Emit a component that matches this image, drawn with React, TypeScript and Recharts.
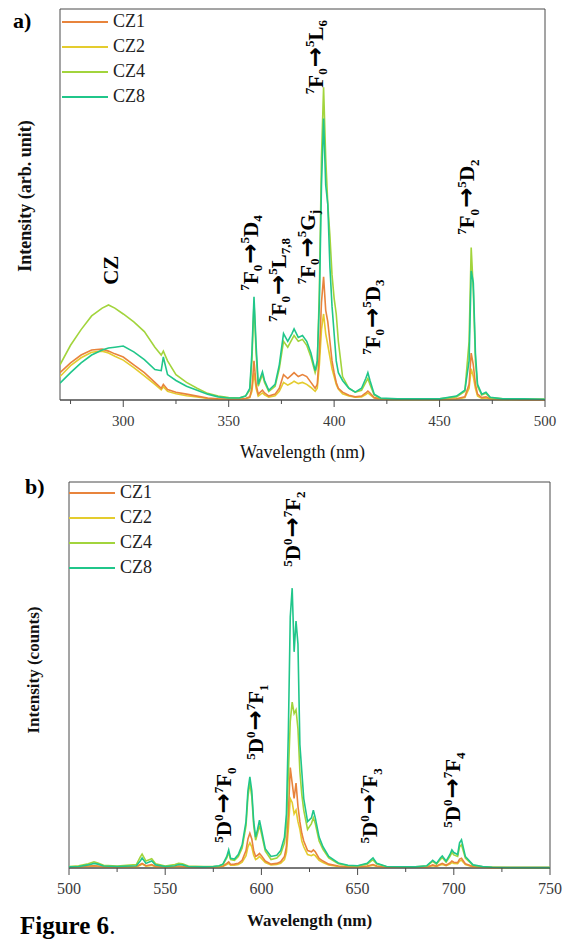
import React from 'react'
import { LineChart, Line, XAxis, YAxis, ReferenceArea, ReferenceDot, Legend } from 'recharts'

// ── Series colours ───────────────────────────────────────────────────────────
const SERIF = '"Liberation Serif", "Times New Roman", serif'
const ARROW_FONT = '"DejaVu Sans", sans-serif'
const AXIS = '#4a4a4a'
const SERIES = [
  { key: 'cz1', name: 'CZ1', color: '#E8843C' },
  { key: 'cz2', name: 'CZ2', color: '#E4CC2E' },
  { key: 'cz4', name: 'CZ4', color: '#A2D43C' },
  { key: 'cz8', name: 'CZ8', color: '#20C68A' },
]
const DRAW_ORDER = ['cz2', 'cz1', 'cz4', 'cz8']

// ── a) excitation spectra ────────────────────────────────────────────────────
const WL_A = [
  270, 275, 280, 285, 290, 293, 296, 300, 305, 310,
  315, 318, 319, 321, 325, 330, 335, 340, 345, 350,
  355, 358, 360, 361, 362, 363, 364, 366, 367, 369,
  372, 374, 376, 378, 380, 381, 383, 385, 387, 389,
  391, 392, 393, 394, 395, 396, 397, 398, 399, 400,
  401, 402, 404, 407, 410, 413, 415, 416, 417, 419,
  422, 430, 440, 450, 458, 462, 464, 465, 466, 467,
  468, 470, 472, 474, 480, 490, 500,
]
const CZ8_A = [
  4.3, 7, 9.5, 11.5, 12.8, 13.3, 13.5, 13.8, 12.3, 10.3,
  7.8, 7.5, 11, 6.5, 5, 3.5, 2.5, 1.5, 0.8, 0.5,
  0.5, 1, 3, 12, 26.4, 14, 4, 7.2, 5, 2.5,
  4, 9, 17, 15, 17, 18.2, 16, 16.5, 15, 12,
  7.5, 10, 25, 55, 72, 55, 50, 34, 24, 17,
  10, 7, 5, 3, 2, 3, 5.5, 7, 5, 1.5,
  0.5, 0.3, 0.3, 0.3, 1, 2.5, 10, 33, 30, 12,
  4, 1.5, 2, 0.7, 0.3, 0.3, 0.2,
]
const CZ4_A = [
  9, 14, 18, 21.5, 23.5, 24.3, 23.5, 22, 20, 17.5,
  13.5, 11.5, 12.5, 10, 6.5, 4.5, 3, 1.7, 1, 0.6,
  0.5, 1, 2.5, 10, 25, 12, 3.5, 6.5, 4.5, 2.2,
  3.5, 8, 15, 13.5, 15.5, 16.5, 15, 15.5, 14, 11,
  7, 9, 28, 62, 80, 62, 50, 42, 32, 26,
  22, 15, 6, 3, 2, 2.5, 4.5, 5.5, 4, 1.3,
  0.4, 0.3, 0.3, 0.3, 0.8, 2.2, 15, 39, 28, 10,
  3.5, 1.3, 1.7, 0.6, 0.3, 0.2, 0.2,
]
const CZ1_A = [
  7, 9.5, 11.5, 12.8, 13, 12.5, 11.8, 11, 9, 7,
  4.5, 3, 4, 2.7, 2, 1.5, 1, 0.5, 0.3, 0.2,
  0.2, 0.4, 0.8, 3, 10, 4, 1.5, 2.5, 1.8, 1,
  1.5, 3, 6.5, 5.5, 6.5, 7, 6, 6.5, 6, 4.5,
  3, 4, 12, 25, 31.5, 23, 20, 15, 10, 7,
  4.5, 3, 2, 1.2, 0.8, 1, 1.8, 2.3, 1.8, 0.6,
  0.3, 0.2, 0.2, 0.2, 0.3, 0.8, 4, 12, 9, 4,
  1.5, 0.6, 0.8, 0.3, 0.2, 0.1, 0.1,
]
const CZ2_A = [
  6, 8.8, 10.8, 12.2, 12.5, 12, 11.2, 10.2, 8.3, 6.2,
  4, 2.6, 3.4, 2.2, 1.6, 1.1, 0.8, 0.4, 0.2, 0.2,
  0.2, 0.3, 0.6, 2.2, 7, 3, 1, 1.8, 1.3, 0.7,
  1.1, 2.2, 4.5, 3.8, 4.4, 4.8, 4.2, 4.5, 4, 3.2,
  2.2, 3, 9, 18, 22, 17, 14, 11, 8, 6,
  4, 2.8, 1.6, 1, 0.7, 0.8, 1.4, 1.8, 1.4, 0.5,
  0.2, 0.1, 0.1, 0.1, 0.2, 0.6, 3, 8, 6, 3,
  1, 0.4, 0.5, 0.2, 0.1, 0.1, 0.1,
]
const TICKS_A = [275, 300, 325, 350, 375, 400, 425, 450, 475, 500]

// ── b) emission spectra ──────────────────────────────────────────────────────
const WL_B = [
  500, 505, 510, 513, 515, 518, 525, 535, 537, 538,
  540, 542, 543, 545, 550, 555, 557, 559, 562, 570,
  575, 578, 580, 582, 583, 584, 586, 588, 590, 592,
  593, 594, 595, 596, 597, 598, 599, 600, 602, 605,
  608, 610, 612, 613, 614, 615, 616, 617, 618, 619,
  620, 621, 622, 624, 626, 627, 628, 630, 632, 635,
  640, 645, 650, 655, 657, 658, 660, 665, 680, 686,
  688, 689, 691, 693, 694, 696, 698, 699, 700, 702,
  703, 704, 706, 710, 715, 720, 730, 740, 750,
]
const CZ8_B = [
  0.3, 0.4, 0.8, 1.2, 1, 0.5, 0.4, 0.6, 1.8, 2.6,
  1.2, 1.6, 1.8, 0.8, 0.4, 0.6, 0.9, 0.8, 0.4, 0.3,
  0.4, 0.6, 1, 3, 4.7, 2.5, 2.3, 3.5, 6, 12,
  20, 23.6, 20, 12, 8, 10, 12.4, 10, 5, 3,
  3.3, 4.5, 8, 14, 35, 65, 72.5, 56, 64, 58,
  32, 25, 18, 12, 13, 15, 13, 8, 5.5, 3,
  1.3, 0.7, 0.6, 1.2, 2.2, 2.6, 1.2, 0.4, 0.3, 0.6,
  1.5, 2, 1.2, 2.6, 3.1, 1.8, 3.5, 4.7, 4, 3.5,
  6.5, 7.3, 3, 0.8, 0.4, 0.2, 0.1, 0.1, 0.1,
]
const CZ4_B = [
  0.4, 0.6, 1.1, 1.6, 1.3, 0.7, 0.5, 0.9, 2.8, 3.6,
  1.8, 2.2, 2.4, 1.1, 0.5, 0.9, 1.2, 1.1, 0.5, 0.4,
  0.4, 0.5, 0.9, 2.6, 4, 2.2, 2, 3, 5.2, 11,
  18.5, 22, 18.5, 11, 7.2, 9, 11, 9, 4.4, 2.2,
  2.6, 3.6, 6.5, 11, 24, 38, 43, 40, 41, 36,
  25, 19, 15, 10, 11.5, 13, 11.5, 7, 4.8, 2.6,
  1.1, 0.6, 0.5, 1, 1.8, 2.1, 1, 0.4, 0.3, 0.5,
  1.3, 1.7, 1, 2.2, 2.7, 1.5, 3, 4, 3.4, 3,
  5.5, 6, 2.6, 0.7, 0.3, 0.2, 0.1, 0.1, 0.1,
]
const CZ1_B = [
  0.3, 0.3, 0.5, 0.6, 0.5, 0.3, 0.3, 0.4, 0.9, 1.2,
  0.6, 0.8, 0.9, 0.4, 0.3, 0.4, 0.5, 0.4, 0.3, 0.2,
  0.3, 0.4, 0.5, 1.2, 1.6, 0.9, 1, 1.2, 2, 4.5,
  7.5, 9, 7.5, 4.5, 3, 3.3, 3.8, 3.2, 1.8, 1,
  1.2, 1.6, 3, 5.5, 14, 26, 22, 18, 22, 16,
  12, 9, 7, 4.5, 4.2, 4.7, 4.2, 2.5, 1.8, 1,
  0.5, 0.3, 0.3, 0.5, 0.8, 0.9, 0.5, 0.2, 0.2, 0.3,
  0.6, 0.8, 0.5, 1, 1.2, 0.7, 1.3, 1.8, 1.5, 1.4,
  2.3, 2.5, 1.1, 0.4, 0.2, 0.1, 0.1, 0.1, 0.1,
]
const CZ2_B = [
  0.3, 0.3, 0.4, 0.5, 0.4, 0.3, 0.2, 0.3, 0.7, 1,
  0.5, 0.6, 0.7, 0.3, 0.2, 0.3, 0.4, 0.3, 0.2, 0.2,
  0.2, 0.3, 0.4, 0.9, 1.2, 0.7, 0.7, 0.9, 1.5, 3.2,
  5.5, 6.5, 5.5, 3.3, 2.2, 2.5, 3, 2.5, 1.4, 0.8,
  0.9, 1.2, 2.2, 4, 10, 18, 17, 14, 15, 12,
  10, 7, 5.5, 3.5, 3.2, 3.5, 3.2, 2, 1.4, 0.8,
  0.4, 0.2, 0.2, 0.4, 0.6, 0.7, 0.4, 0.2, 0.2, 0.2,
  0.5, 0.6, 0.4, 0.8, 0.9, 0.6, 1, 1.4, 1.2, 1.1,
  1.8, 2, 0.9, 0.3, 0.2, 0.1, 0.1, 0.1, 0.1,
]
const TICKS_B = [500, 525, 550, 575, 600, 625, 650, 675, 700, 725, 750]

// ── Transition labels: [text, 'n' | 'sup' | 'sub' | 'arrow'] ─────────────────
type Part = [string, 'n' | 'sup' | 'sub' | 'arrow']
const F0 = (lvl: string, sub: string): Part[] => [
  ['7', 'sup'], ['F', 'n'], ['0', 'sub'], ['\u2192', 'arrow'], ['5', 'sup'], [lvl, 'n'], [sub, 'sub'],
]
const D0 = (sub: string): Part[] => [
  ['5', 'sup'], ['D', 'n'], ['0', 'sup'], ['\u2192', 'arrow'], ['7', 'sup'], ['F', 'n'], [sub, 'sub'],
]
const LABELS_A = [
  { at: 294.2, level: 33.2, parts: [['CZ', 'n']] as Part[] },
  { at: 360.3, level: 37.6, parts: F0('D', '4') },
  { at: 373.6, level: 30.7, parts: F0('L', '7,8') },
  { at: 387.3, level: 39.1, parts: F0('G', 'j') },
  { at: 391.1, level: 87.7, parts: F0('L', '6') },
  { at: 418.2, level: 21.2, parts: F0('D', '3') },
  { at: 462.9, level: 51.9, parts: F0('D', '2') },
]
const LABELS_B = [
  { at: 580.6, level: 16.3, parts: D0('0') },
  { at: 597.2, level: 37.8, parts: D0('1') },
  { at: 616.4, level: 87.8, parts: D0('2') },
  { at: 656.4, level: 16.1, parts: D0('3') },
  { at: 699.6, level: 20.2, parts: D0('4') },
]

function rows(wl: number[], cz1: number[], cz2: number[], cz4: number[], cz8: number[]) {
  return wl.map((w, i) => ({ w, cz1: cz1[i], cz2: cz2[i], cz4: cz4[i], cz8: cz8[i] }))
}
const DATA_A = rows(WL_A, CZ1_A, CZ2_A, CZ4_A, CZ8_A)
const DATA_B = rows(WL_B, CZ1_B, CZ2_B, CZ4_B, CZ8_B)

// ── Pieces ───────────────────────────────────────────────────────────────────

function Transition({ cx, cy, parts, size }: { cx: number; cy: number; parts: Part[]; size: number }) {
  let shift = 0
  return (
    <text
      x={cx} y={cy + size * 0.35}
      transform={`rotate(-90 ${cx} ${cy})`}
      textAnchor="middle" fontFamily={SERIF} fontWeight="bold" fontSize={size} fill="#000"
    >
      {parts.map(([t, k], i) => {
        const target = k === 'sup' ? -0.4 * size : k === 'sub' ? 0.22 * size : 0
        const dy = target - shift
        shift = target
        if (k === 'arrow') {
          return <tspan key={i} dy={dy} fontFamily={ARROW_FONT} fontSize={size * 1.15} dx={1}>{t}</tspan>
        }
        return <tspan key={i} dy={dy} fontSize={k === 'n' ? size : size * 0.62}>{t}</tspan>
      })}
    </text>
  )
}

function makeTick(fontSize: number) {
  // eslint-disable-next-line @typescript-eslint/no-explicit-any
  return (props: any) => {
    const { x, y, payload } = props
    const major = payload.value % 50 === 0
    return (
      <g>
        <line x1={x} x2={x} y1={y} y2={y + (major ? 7 : 4)} stroke={AXIS} strokeWidth={1} />
        {major && (
          <text x={x} y={y + 26} textAnchor="middle" fontSize={fontSize} fill="#3a3a3a" fontFamily={SERIF}>
            {payload.value}
          </text>
        )}
      </g>
    )
  }
}

function LegendList() {
  return (
    <div style={{ fontFamily: SERIF, fontSize: 18, color: '#222' }}>
      {SERIES.map((s) => (
        <div key={s.key} style={{ display: 'flex', alignItems: 'center', height: 25 }}>
          <span style={{ width: 46, height: 2, background: s.color, marginRight: 5 }} />
          <span>{s.name}</span>
        </div>
      ))}
    </div>
  )
}

type PanelProps = {
  data: { w: number }[]
  domain: [number, number]
  ticks: number[]
  labels: { at: number; level: number; parts: Part[] }[]
  margin: { top: number; right: number; left: number; bottom: number }
  axisHeight: number
  tickFont: number
  xTitleWeight: 'normal' | 'bold'
  xTitleSize: number
  xTitleOffset: number
  legendPos: { left: number; top: number }
}

function Panel(p: PanelProps) {
  return (
    <LineChart width={569} height={470} data={p.data} margin={p.margin}>
      <XAxis
        dataKey="w" type="number" domain={p.domain} ticks={p.ticks} interval={0}
        allowDataOverflow height={p.axisHeight}
        stroke={AXIS} tickSize={0} tickMargin={0} tickLine={false}
        tick={makeTick(p.tickFont)}
        label={{
          value: 'Wavelength (nm)', position: 'insideBottom', offset: p.xTitleOffset,
          style: { fontFamily: SERIF, fontSize: p.xTitleSize, fontWeight: p.xTitleWeight, fill: '#111' },
        }}
      />
      <YAxis domain={[0, 100]} width={0} tick={false} tickLine={false} stroke={AXIS} />
      <ReferenceArea x1={p.domain[0]} x2={p.domain[1]} y1={0} y2={100} fill="none" fillOpacity={0} stroke={AXIS} strokeWidth={1} />
      {DRAW_ORDER.map((k) => {
        const s = SERIES.find((x) => x.key === k)!
        return (
          <Line
            key={k} type="linear" dataKey={k} name={s.name} stroke={s.color}
            strokeWidth={1.6} dot={false} isAnimationActive={false}
          />
        )
      })}
      {p.labels.map((l, i) => (
        <ReferenceDot
          key={i} x={l.at} y={l.level} r={0}
          // eslint-disable-next-line @typescript-eslint/no-explicit-any
          shape={(sp: any) => <Transition cx={sp.cx} cy={sp.cy} parts={l.parts} size={21} />}
        />
      ))}
      <Legend
        layout="vertical" align="center" verticalAlign="middle"
        wrapperStyle={{ position: 'absolute', left: p.legendPos.left, top: p.legendPos.top, width: 'auto', height: 'auto' }}
        content={() => <LegendList />}
      />
    </LineChart>
  )
}

const abs = (left: number, top: number): React.CSSProperties => ({ position: 'absolute', left, top })

function YTitle({ text, cx, cy, size }: { text: string; cx: number; cy: number; size: number }) {
  return (
    <div
      style={{
        ...abs(cx, cy), transform: 'translate(-50%, -50%) rotate(-90deg)', whiteSpace: 'nowrap',
        fontFamily: SERIF, fontWeight: 'bold', fontSize: size, color: '#111',
      }}
    >
      {text}
    </div>
  )
}

export default function App() {
  return (
    <div style={{ position: 'absolute', left: 0, top: 0, width: 569, height: 951, background: '#fff', overflow: 'hidden' }}>
      <div style={abs(0, 0)}>
        <Panel
          data={DATA_A} domain={[270, 500]} ticks={TICKS_A} labels={LABELS_A}
          margin={{ top: 9, right: 24, left: 60, bottom: 0 }} axisHeight={70}
          tickFont={15} xTitleWeight="normal" xTitleSize={18} xTitleOffset={12}
          legendPos={{ left: 62, top: 9 }}
        />
      </div>
      <div style={abs(0, 470)}>
        <Panel
          data={DATA_B} domain={[500, 750]} ticks={TICKS_B} labels={LABELS_B}
          margin={{ top: 12, right: 19, left: 69, bottom: 0 }} axisHeight={72}
          tickFont={16} xTitleWeight="bold" xTitleSize={17} xTitleOffset={14}
          legendPos={{ left: 69, top: 10 }}
        />
      </div>

      <div style={{ ...abs(13, 8), fontFamily: SERIF, fontWeight: 'bold', fontSize: 22 }}>a)</div>
      <div style={{ ...abs(25, 474), fontFamily: SERIF, fontWeight: 'bold', fontSize: 22 }}>b)</div>
      <YTitle text="Intensity (arb. unit)" cx={25} cy={196} size={18} />
      <YTitle text="Intensity (counts)" cx={34} cy={670} size={17} />
      <div style={{ ...abs(20, 912), fontFamily: SERIF, fontSize: 25 }}>
        <b>Figure 6</b>.
      </div>
    </div>
  )
}
